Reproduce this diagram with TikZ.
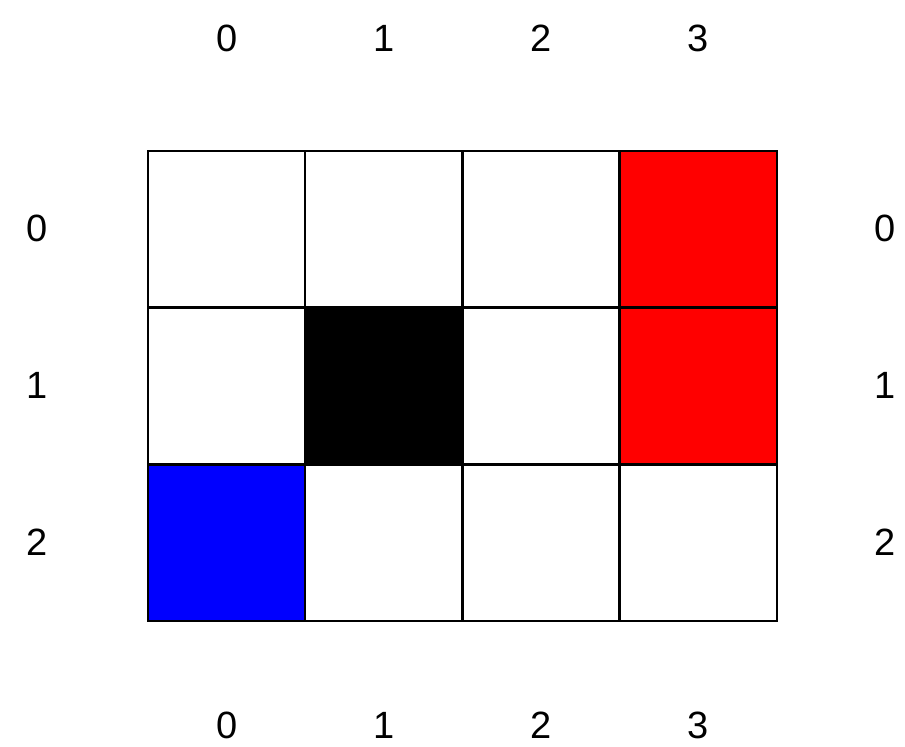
\documentclass[tikz,border=0pt]{standalone}
\usepackage{fontspec}
\setmainfont{Liberation Sans}
\usepackage{tikz}
\usetikzlibrary{positioning}
\definecolor{rojo}{RGB}{255,0,0}
\definecolor{azul}{RGB}{0,0,255}

\begin{document}
\begin{tikzpicture}[
  x=1pt, y=-1pt,
  celda/.style={draw=black, fill=#1, line width=2.5pt, minimum width=157.25pt,
    minimum height=156.7pt, inner sep=0pt},
  celda/.default=white,
  etiqueta/.style={font=\fontsize{38}{40}\selectfont, inner sep=0pt}
]
\useasboundingbox (0,0) rectangle (905,747);
% celdas de la rejilla
\foreach \c in {0,...,3}{
  \foreach \r in {0,...,2}{
    \node[celda] (c\c\r) at ({226.6+157.25*\c},{229.35+156.7*\r}) {};
  }
}
\node[celda=black] (c11) at (c11) {};
\node[celda=rojo] (c30) at (c30) {};
\node[celda=rojo] (c31) at (c31) {};
\node[celda=azul] (c02) at (c02) {};
% etiquetas de columnas y filas
\foreach \c in {0,...,3}{
  \node[etiqueta] (arriba\c) at ({227.5+157*\c},38) {\c};
  \node[etiqueta] (abajo\c) at ({227.5+157*\c},725) {\c};
}
\foreach \r in {0,...,2}{
  \node[etiqueta] (izq\r) at (37,{228.5+157*\r}) {\r};
  \node[etiqueta] (der\r) at (885,{228.5+157*\r}) {\r};
}
\end{tikzpicture}
\end{document}
